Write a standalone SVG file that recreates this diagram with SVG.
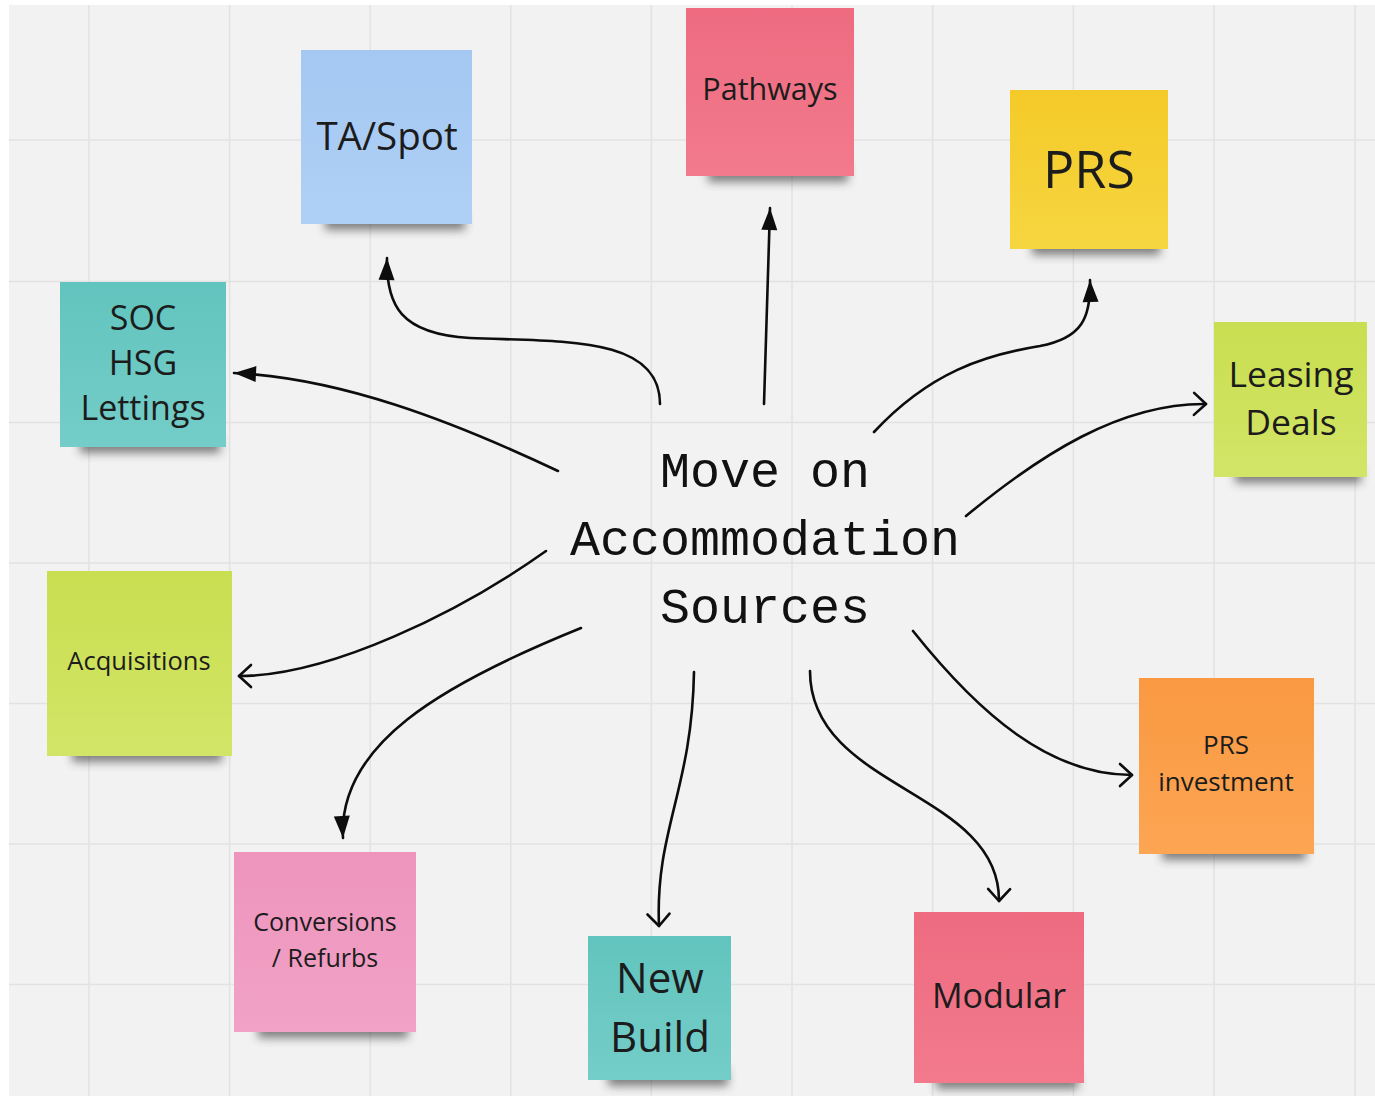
<svg xmlns="http://www.w3.org/2000/svg" width="1375" height="1096" viewBox="0 0 1375 1096">
  <defs>
    <style>
      .grid line { stroke: #e2e2e2; stroke-width: 1.5; }
      .note-text { font-family: "Open Sans", "Liberation Sans", sans-serif; fill: #1c1c1c; text-anchor: middle; }
      .title { font-family: "Liberation Mono", "DejaVu Sans Mono", monospace; font-size: 50px; fill: #111; text-anchor: middle; }
      .conn path { fill: none; stroke: #0d0d0d; stroke-width: 2.6; stroke-linecap: round; }
      .shadow { fill: #333; opacity: 0.6; filter: url(#soft); }
    </style>
    <filter id="soft" x="-20%" y="-100%" width="140%" height="300%">
      <feGaussianBlur stdDeviation="5"/>
    </filter>
    <marker id="solid" markerUnits="userSpaceOnUse" markerWidth="24" markerHeight="18" refX="22" refY="9" orient="auto" overflow="visible">
      <path d="M0,1 L22,9 L0,17 z" fill="#0d0d0d"/>
    </marker>
    <marker id="open" markerUnits="userSpaceOnUse" markerWidth="16" markerHeight="24" refX="12" refY="11" orient="auto" overflow="visible">
      <path d="M0,0 L12,11 L0,22" fill="none" stroke="#0d0d0d" stroke-width="2.6" stroke-linecap="round" stroke-linejoin="round"/>
    </marker>
    <linearGradient id="gBlue" x1="0" y1="0" x2="0" y2="1"><stop offset="0" stop-color="#a4c8f2"/><stop offset="1" stop-color="#afd0f6"/></linearGradient>
    <linearGradient id="gRed" x1="0" y1="0" x2="0" y2="1"><stop offset="0" stop-color="#ee6b80"/><stop offset="1" stop-color="#f27a8c"/></linearGradient>
    <linearGradient id="gYellow" x1="0" y1="0" x2="0" y2="1"><stop offset="0" stop-color="#f4ca28"/><stop offset="1" stop-color="#f6d640"/></linearGradient>
    <linearGradient id="gLime" x1="0" y1="0" x2="0" y2="1"><stop offset="0" stop-color="#c9de50"/><stop offset="1" stop-color="#d3e567"/></linearGradient>
    <linearGradient id="gTeal" x1="0" y1="0" x2="0" y2="1"><stop offset="0" stop-color="#62c4be"/><stop offset="1" stop-color="#74cdc8"/></linearGradient>
    <linearGradient id="gPink" x1="0" y1="0" x2="0" y2="1"><stop offset="0" stop-color="#ee94bd"/><stop offset="1" stop-color="#f1a2c6"/></linearGradient>
    <linearGradient id="gOrange" x1="0" y1="0" x2="0" y2="1"><stop offset="0" stop-color="#fa9942"/><stop offset="1" stop-color="#fca553"/></linearGradient>
  </defs>

  <!-- board -->
  <rect width="1375" height="1096" fill="#ffffff"/>
  <rect x="9" y="5" width="1366" height="1091" fill="#f2f2f2"/>
  <g class="grid">
    <line x1="89" y1="5" x2="89" y2="1096"/>
    <line x1="229.6" y1="5" x2="229.6" y2="1096"/>
    <line x1="370.2" y1="5" x2="370.2" y2="1096"/>
    <line x1="510.8" y1="5" x2="510.8" y2="1096"/>
    <line x1="651.4" y1="5" x2="651.4" y2="1096"/>
    <line x1="792" y1="5" x2="792" y2="1096"/>
    <line x1="932.6" y1="5" x2="932.6" y2="1096"/>
    <line x1="1073.4" y1="5" x2="1073.4" y2="1096"/>
    <line x1="1214" y1="5" x2="1214" y2="1096"/>
    <line x1="1355" y1="5" x2="1355" y2="1096"/>
    <line x1="9" y1="140" x2="1375" y2="140"/>
    <line x1="9" y1="281.5" x2="1375" y2="281.5"/>
    <line x1="9" y1="422.5" x2="1375" y2="422.5"/>
    <line x1="9" y1="563" x2="1375" y2="563"/>
    <line x1="9" y1="703.5" x2="1375" y2="703.5"/>
    <line x1="9" y1="844" x2="1375" y2="844"/>
    <line x1="9" y1="984.5" x2="1375" y2="984.5"/>
  </g>

  <!-- connectors -->
  <g class="conn" id="connectors">
    <path d="M660,404 C660,335 560,342 470,338 C400,334 386,305 387,258" marker-end="url(#solid)"/>
    <path d="M764,404 L770,208" marker-end="url(#solid)"/>
    <path d="M874,432 C930,372 985,355 1040,346 C1082,338 1091,318 1090,280" marker-end="url(#solid)"/>
    <path d="M966,516 C1040,455 1120,403 1206,404" marker-end="url(#open)"/>
    <path d="M558,471 C450,420 340,378 234,373" marker-end="url(#solid)"/>
    <path d="M546,551 C460,612 330,676 239,676" marker-end="url(#open)"/>
    <path d="M581,628 C440,685 338,745 343,838" marker-end="url(#solid)"/>
    <path d="M694,672 C692,790 655,830 659,926" marker-end="url(#open)"/>
    <path d="M810,671 C810,790 1000,790 999,901" marker-end="url(#open)"/>
    <path d="M913,631 C980,715 1050,775 1132,775" marker-end="url(#open)"/>
  </g>

  <!-- central title -->
  <g id="center">
    <text class="title" x="765" y="487">Move on</text>
    <text class="title" x="765" y="555">Accommodation</text>
    <text class="title" x="765" y="623">Sources</text>
  </g>

  <!-- sticky notes -->
  <g id="ta-spot">
    <rect class="shadow" x="325" y="214" width="140" height="16"/>
    <rect x="301" y="50" width="171" height="174" fill="url(#gBlue)"/>
    <text class="note-text" x="387" y="150" font-size="38.5">TA/Spot</text>
  </g>
  <g id="pathways">
    <rect class="shadow" x="708" y="166" width="140" height="16"/>
    <rect x="686" y="8" width="168" height="168" fill="url(#gRed)"/>
    <text class="note-text" x="770" y="100" font-size="30.5">Pathways</text>
  </g>
  <g id="prs">
    <rect class="shadow" x="1032" y="239" width="128" height="16"/>
    <rect x="1010" y="90" width="158" height="159" fill="url(#gYellow)"/>
    <text class="note-text" x="1089" y="188" font-size="52">PRS</text>
  </g>
  <g id="leasing-deals">
    <rect class="shadow" x="1235" y="467" width="126" height="16"/>
    <rect x="1214" y="322" width="153" height="155" fill="url(#gLime)"/>
    <text class="note-text" x="1291" y="387" font-size="35.5">Leasing</text>
    <text class="note-text" x="1291" y="435" font-size="35.5">Deals</text>
  </g>
  <g id="soc-hsg-lettings">
    <rect class="shadow" x="80" y="437" width="140" height="16"/>
    <rect x="60" y="282" width="166" height="165" fill="url(#gTeal)"/>
    <text class="note-text" x="143" y="330" font-size="34">SOC</text>
    <text class="note-text" x="143" y="375" font-size="34">HSG</text>
    <text class="note-text" x="143" y="420" font-size="34">Lettings</text>
  </g>
  <g id="acquisitions">
    <rect class="shadow" x="72" y="746" width="150" height="16"/>
    <rect x="47" y="571" width="185" height="185" fill="url(#gLime)"/>
    <text class="note-text" x="139" y="670" font-size="25.5">Acquisitions</text>
  </g>
  <g id="conversions-refurbs">
    <rect class="shadow" x="258" y="1022" width="150" height="16"/>
    <rect x="234" y="852" width="182" height="180" fill="url(#gPink)"/>
    <text class="note-text" x="325" y="931" font-size="25">Conversions</text>
    <text class="note-text" x="325" y="967" font-size="25">/ Refurbs</text>
  </g>
  <g id="new-build">
    <rect class="shadow" x="608" y="1070" width="120" height="16"/>
    <rect x="588" y="936" width="143" height="144" fill="url(#gTeal)"/>
    <text class="note-text" x="660" y="993" font-size="42">New</text>
    <text class="note-text" x="660" y="1052" font-size="42">Build</text>
  </g>
  <g id="modular">
    <rect class="shadow" x="936" y="1073" width="142" height="16"/>
    <rect x="914" y="912" width="170" height="171" fill="url(#gRed)"/>
    <text class="note-text" x="999" y="1008" font-size="34">Modular</text>
  </g>
  <g id="prs-investment">
    <rect class="shadow" x="1162" y="844" width="144" height="16"/>
    <rect x="1139" y="678" width="175" height="176" fill="url(#gOrange)"/>
    <text class="note-text" x="1226" y="754" font-size="26">PRS</text>
    <text class="note-text" x="1226" y="791" font-size="26">investment</text>
  </g>
</svg>
